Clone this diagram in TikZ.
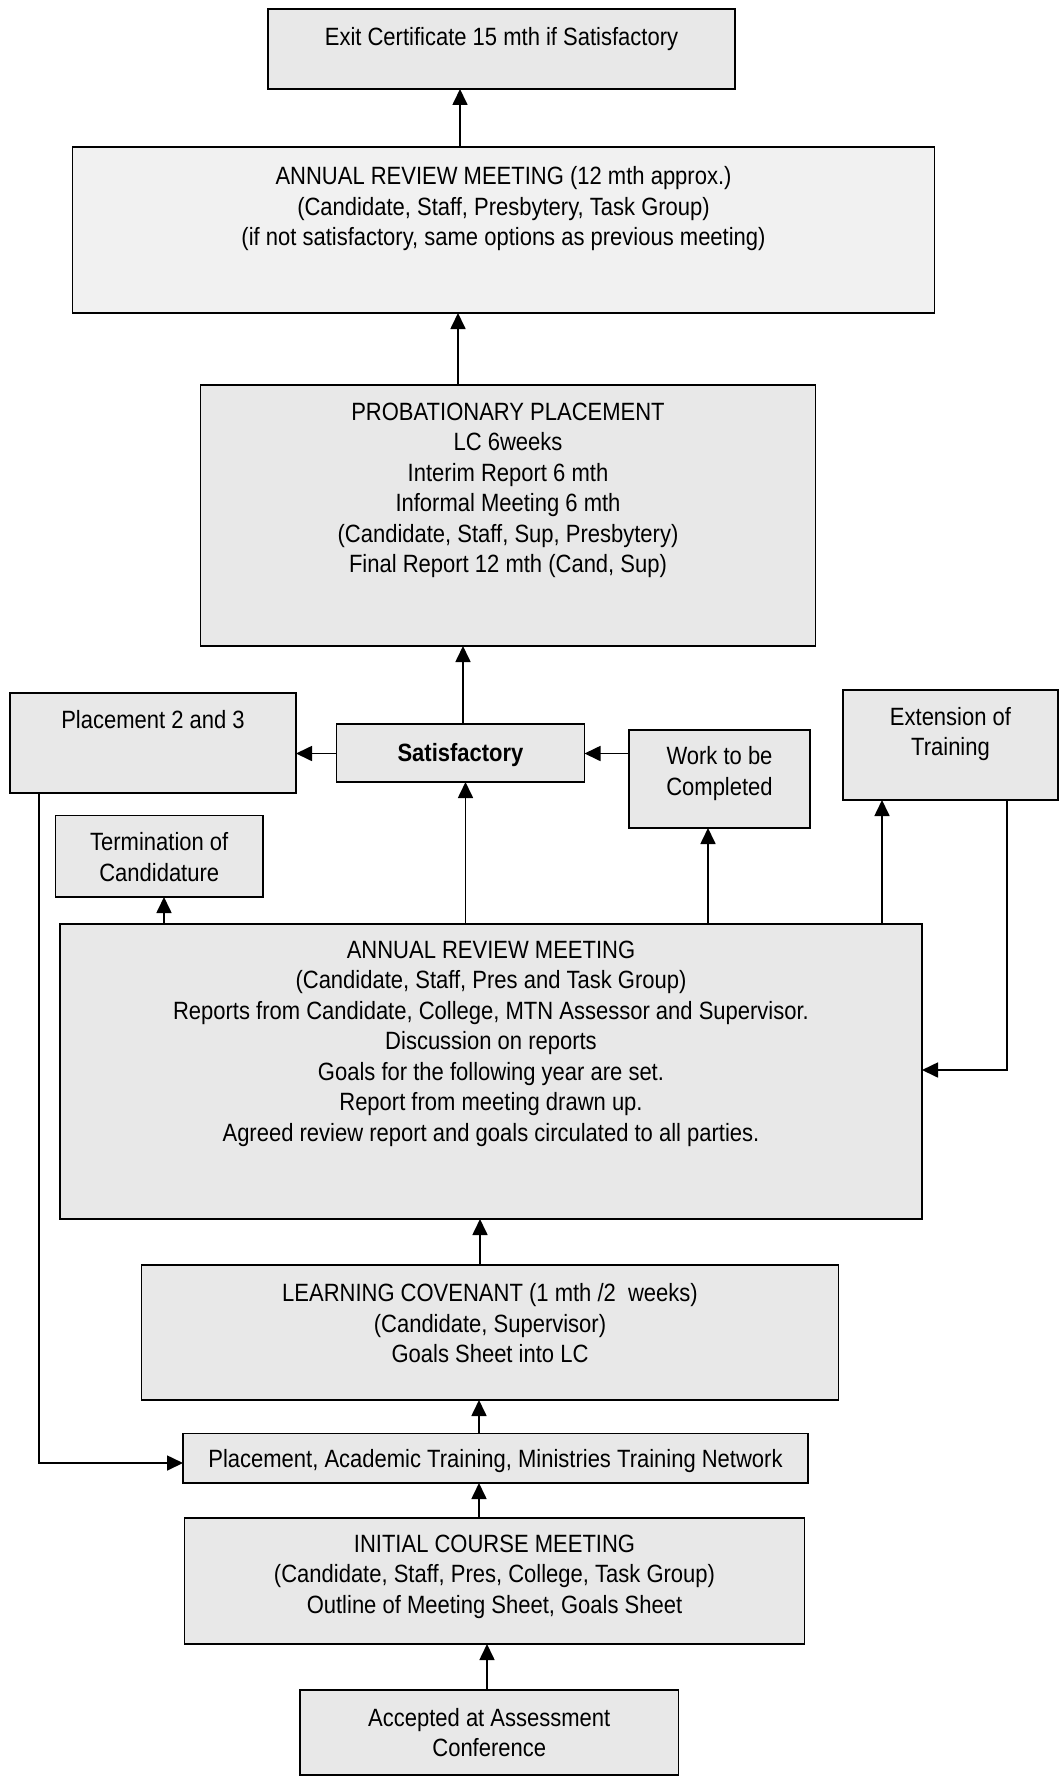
\documentclass[tikz,border=0pt]{standalone}
\usepackage{fontspec}
\setmainfont[FakeStretch=0.88]{Liberation Sans}
\usetikzlibrary{arrows.meta}
\definecolor{boxgray}{HTML}{E8E8E8}
\definecolor{boxlight}{HTML}{F1F1F1}
\newcommand\mystrut{\rule{0pt}{19pt}}
\begin{document}
\begin{tikzpicture}[x=1pt,y=-1pt,
  box/.style={draw=black, line width=1.8pt, fill=boxgray, inner sep=0pt, outer sep=0pt},
  txt/.style={anchor=north, inner sep=0pt, align=center, font=\fontsize{25}{30.5}\selectfont},
  arr/.style={line width=1.7pt, -{Triangle[length=16pt,width=15pt]}}]
\useasboundingbox (0,0) rectangle (1058,1776);

% columns and rows for connectors
\coordinate (cA) at (460,0);
\coordinate (cB) at (458,0);
\coordinate (cC) at (463,0);
\coordinate (cD) at (465.5,0);
\coordinate (cE) at (708,0);
\coordinate (cF) at (882,0);
\coordinate (cG) at (1007,0);
\coordinate (cH) at (164,0);
\coordinate (cI) at (39,0);
\coordinate (cJ) at (480,0);
\coordinate (cK) at (479,0);
\coordinate (cL) at (487,0);
\coordinate (r1) at (0,753.5);
\coordinate (r2) at (0,1070);
\coordinate (r3) at (0,1463);

% boxes
\node[box, minimum width=467pt, minimum height=80pt] (exit) at (501.5,49) {};
\node[txt] (exitT) at (501.5,26) {\mystrut Exit Certificate 15 mth if Satisfactory};

\node[box, fill=boxlight, minimum width=862pt, minimum height=166pt] (ann1) at (503.5,230) {};
\node[txt] (ann1T) at (503.5,165.5) {\mystrut ANNUAL REVIEW MEETING (12 mth approx.)\\
(Candidate, Staff, Presbytery, Task Group)\\
(if not satisfactory, same options as previous meeting)};

\node[box, minimum width=615pt, minimum height=261pt] (prob) at (508,515.5) {};
\node[txt] (probT) at (508,401) {\mystrut PROBATIONARY PLACEMENT\\
LC 6weeks\\
Interim Report 6 mth\\
Informal Meeting 6 mth\\
(Candidate, Staff, Sup, Presbytery)\\
Final Report 12 mth (Cand, Sup)};

\node[box, minimum width=286pt, minimum height=100pt] (place23) at (153,743) {};
\node[txt] (place23T) at (153,709) {\mystrut Placement 2 and 3};

\node[box, minimum width=248pt, minimum height=58pt] (satisf) at (460.5,753) {};
\node[txt] (satisfT) at (460.5,742) {\mystrut\bfseries Satisfactory};

\node[box, minimum width=181pt, minimum height=98pt] (work) at (719.5,779) {};
\node[txt] (workT) at (719.5,745.5) {\mystrut Work to be\\Completed};

\node[box, minimum width=215pt, minimum height=110pt] (ext) at (950.5,745) {};
\node[txt] (extT) at (950.5,706) {\mystrut Extension of\\Training};

\node[box, minimum width=207.5pt, minimum height=81.5pt] (term) at (159.25,856.25) {};
\node[txt] (termT) at (159.25,831.5) {\mystrut Termination of\\Candidature};

\node[box, minimum width=862pt, minimum height=295pt] (ann2) at (491,1071.5) {};
\node[txt] (ann2T) at (491,939) {\mystrut ANNUAL REVIEW MEETING\\
(Candidate, Staff, Pres and Task Group)\\
Reports from Candidate, College, MTN Assessor and Supervisor.\\
Discussion on reports\\
Goals for the following year are set.\\
Report from meeting drawn up.\\
Agreed review report and goals circulated to all parties.};

\node[box, minimum width=697pt, minimum height=135pt] (lc) at (490,1332.5) {};
\node[txt] (lcT) at (490,1282.5) {\mystrut LEARNING COVENANT (1 mth /2\ \ weeks)\\
(Candidate, Supervisor)\\
Goals Sheet into LC};

\node[box, minimum width=625pt, minimum height=49.5pt] (pat) at (495.5,1458.25) {};
\node[txt] (patT) at (495.5,1448) {\mystrut Placement, Academic Training, Ministries Training Network};

\node[box, minimum width=620pt, minimum height=126pt] (init) at (494.5,1581) {};
\node[txt] (initT) at (494.5,1533) {\mystrut INITIAL COURSE MEETING\\
(Candidate, Staff, Pres, College, Task Group)\\
Outline of Meeting Sheet, Goals Sheet};

\node[box, minimum width=378.5pt, minimum height=85pt] (acc) at (489.25,1732.5) {};
\node[txt] (accT) at (489.25,1707) {\mystrut Accepted at Assessment\\Conference};

% connectors
\draw[arr] (ann1.north -| cA) -- (exit.south -| cA);
\draw[arr] (prob.north -| cB) -- (ann1.south -| cB);
\draw[arr] (satisf.north -| cC) -- (prob.south -| cC);
\draw[arr] (satisf.west |- r1) -- (place23.east |- r1);
\draw[arr] (work.west |- r1) -- (satisf.east |- r1);
\draw[arr] (ann2.north -| cD) -- (satisf.south -| cD);
\draw[arr] (ann2.north -| cE) -- (work.south -| cE);
\draw[arr] (ann2.north -| cF) -- (ext.south -| cF);
\draw[arr] (ext.south -| cG) -- (cG |- r2) -- (ann2.east |- r2);
\draw[arr] (ann2.north -| cH) -- (term.south -| cH);
\draw[arr] (place23.south -| cI) -- (cI |- r3) -- (pat.west |- r3);
\draw[arr] (lc.north -| cJ) -- (ann2.south -| cJ);
\draw[arr] (pat.north -| cK) -- (lc.south -| cK);
\draw[arr] (init.north -| cK) -- (pat.south -| cK);
\draw[arr] (acc.north -| cL) -- (init.south -| cL);
\end{tikzpicture}
\end{document}
